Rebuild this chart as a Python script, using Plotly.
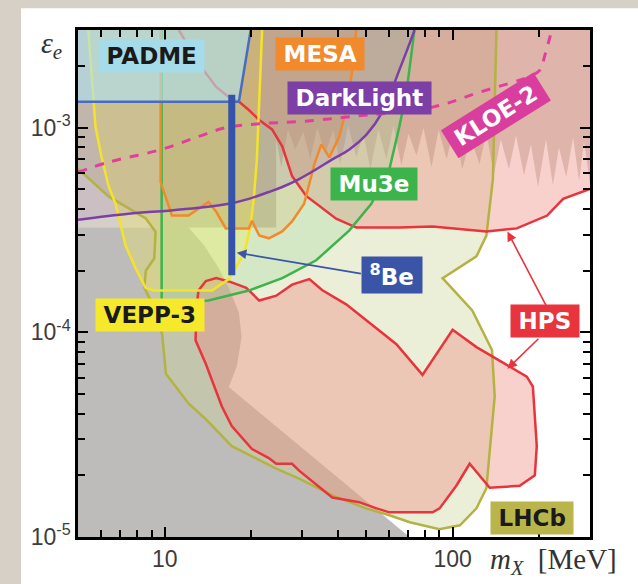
import numpy as np
import plotly.graph_objects as go

# masses m_X in MeV, couplings epsilon_e
beam_dump_m = [5, 12.1, 13.7, 15.4, 16.7, 18.1, 18.5, 17.8, 16.7, 70.8, 5]
beam_dump_eps = [3.25e-4, 3.25e-4, 2.66e-4, 2.06e-4, 1.65e-4, 1.25e-4, 9.5e-5, 6.8e-5, 5.4e-5, 1e-5, 1e-5]

lhcb_m = [5, 142, 140, 138, 131, 121, 92.3, 117, 137, 140, 137, 131, 121, 106, 90, 81, 71, 60, 50,
          38, 29.3, 24.4, 20.1, 17.1, 13.9, 12.1, 10.1, 9.8, 9.2, 8.5, 8.6, 9.2, 9.3, 8.6, 6.4, 5]
lhcb_eps = [3e-3, 3e-3, 1.37e-3, 5.6e-4, 2.97e-4, 2.35e-4, 1.84e-4, 1.28e-4, 8.2e-5, 4.86e-5, 3.48e-5,
            1.73e-5, 1.38e-5, 1.14e-5, 1.09e-5, 1.13e-5, 1.18e-5, 1.28e-5, 1.38e-5, 1.6e-5, 1.93e-5,
            2.16e-5, 2.49e-5, 2.78e-5, 3.76e-5, 4.49e-5, 6.27e-5, 9.8e-5, 1.32e-4, 1.65e-4, 2.0e-4,
            2.3e-4, 3.1e-4, 3.6e-4, 4.6e-4, 6.3e-4]

# existing upper bounds (jagged lower edge)
upper_m = [5, 300, 300, 286, 275, 262, 248, 234, 223, 211, 198, 187, 177, 166, 157, 147, 139, 131,
           124, 115.5, 108, 101.6, 95.3, 89.4, 84.5, 79.2, 74.9, 70.3, 66.4, 62.3, 58.9, 55.2, 51.8,
           49.0, 46.3, 43.4, 40.7, 38.5, 36.1, 33.9, 32.0, 30.3, 28.4, 26.8, 25.4, 24.4, 24.4, 5]
upper_eps = [3e-3, 3e-3, 5.3e-4, 8.56e-4, 5.48e-4, 8.95e-4, 5.73e-4, 8.01e-4, 5.25e-4, 8.75e-4,
             5.13e-4, 8.28e-4, 5.86e-4, 9.15e-4, 6.26e-4, 8.75e-4, 5.86e-4, 9.56e-4, 6.63e-4,
             8.95e-4, 6.26e-4, 1.02e-3, 7.0e-4, 9.78e-4, 6.41e-4, 1e-3, 7.32e-4, 9.35e-4, 6.55e-4,
             1.02e-3, 7.0e-4, 9.78e-4, 6.26e-4, 9.35e-4, 7.16e-4, 1.02e-3, 6.63e-4, 9.78e-4,
             7.41e-4, 1e-3, 7.0e-4, 9.56e-4, 7.83e-4, 9.78e-4, 6.41e-4, 8.75e-4, 3.25e-4, 3.25e-4]

hps1_m = [11.2, 13.1, 15.1, 16.7, 18.1, 19.6, 21.3, 23.6, 25.6, 27.7, 31.0, 34.4, 39.4, 46.3, 65.3,
          85.2, 131, 167, 213, 242, 300, 300]
hps1_eps = [3e-3, 2.06e-3, 1.58e-3, 1.41e-3, 1.34e-3, 1.22e-3, 1.09e-3, 9.8e-4, 8.1e-4, 5.8e-4,
            4.64e-4, 4.15e-4, 3.59e-4, 3.25e-4, 3.25e-4, 3.29e-4, 3.11e-4, 3.22e-4, 3.72e-4,
            4.49e-4, 5.02e-4, 3e-3]

hps2_m = [13.1, 13.9, 15.1, 17.0, 19.2, 21.3, 24.4, 27.7, 31.8, 35.2, 42.7, 50.2, 63.8, 78.6, 100,
          121, 158, 181, 190, 193, 196, 193, 171, 134.5, 114.6, 103, 90.1, 85.2, 60.3, 54.4, 47.4,
          38.2, 29.3, 27.7, 24.4, 23.0, 20.1, 17.1, 15.8, 13.9, 12.8, 12.9]
hps2_eps = [1.6e-4, 1.78e-4, 1.84e-4, 1.76e-4, 1.65e-4, 1.43e-4, 1.51e-4, 1.71e-4, 1.82e-4, 1.61e-4,
            1.37e-4, 1.14e-4, 8.75e-5, 6.2e-5, 1.03e-4, 8.47e-5, 6.78e-5, 6.07e-5, 5.43e-5, 4.02e-5,
            2.78e-5, 2.0e-5, 1.78e-5, 1.74e-5, 2.28e-5, 1.78e-5, 1.38e-5, 1.32e-5, 1.32e-5, 1.38e-5,
            1.48e-5, 1.56e-5, 2.11e-5, 2.28e-5, 2.28e-5, 2.43e-5, 2.69e-5, 3.48e-5, 4.34e-5, 7.0e-5,
            9.15e-5, 1.32e-4]

vepp3_m = [5.43, 5.75, 6.03, 6.38, 6.75, 7.31, 7.92, 8.59, 9.16, 14.6, 16.7, 18.9, 19.8, 20.4, 20.9,
           21.3, 21.8]
vepp3_eps = [3e-3, 1.01e-3, 7.24e-4, 5.19e-4, 4.25e-4, 2.66e-4, 2.06e-4, 1.65e-4, 1.6e-4, 1.6e-4,
             1.82e-4, 2.43e-4, 3.22e-4, 4.49e-4, 7.0e-4, 1.37e-3, 3e-3]

mu3e_m = [9.76, 9.76, 14.2, 19.6, 25.6, 33.6, 43.8, 52.2, 60.3, 65.3, 69.1, 73.7]
mu3e_eps = [3e-3, 1.40e-4, 1.43e-4, 1.6e-4, 1.84e-4, 2.25e-4, 3.15e-4, 4.25e-4, 6.26e-4, 1.01e-3,
            1.48e-3, 3e-3]

mesa_m = [9.68, 9.68, 10.6, 12.1, 14.2, 15.1, 16.3, 19.6, 20.1, 21.3, 23.0, 25.6, 27.7, 30.5, 33.1,
          35.0, 37.3, 40.4, 43.1, 44.8, 46.3]
mesa_eps = [3e-3, 5.42e-4, 3.72e-4, 3.72e-4, 4.34e-4, 3.88e-4, 3.22e-4, 3.22e-4, 3.51e-4, 2.97e-4,
            2.88e-4, 3.11e-4, 3.48e-4, 4.25e-4, 6.63e-4, 8.28e-4, 7.16e-4, 9.05e-4, 1.29e-3,
            1.91e-3, 3e-3]

darklight_m = [5, 7.5, 10.3, 13.1, 16.7, 19.6, 23.0, 25.6, 29.3, 33.6, 38.2, 43.8, 50.2, 57.0, 65.3,
               72.5, 73.7]
darklight_eps = [3.55e-4, 3.8e-4, 3.93e-4, 4.06e-4, 4.25e-4, 4.49e-4, 4.85e-4, 5.13e-4, 5.61e-4,
                 6.26e-4, 7.0e-4, 7.83e-4, 9.25e-4, 1.19e-3, 1.91e-3, 2.81e-3, 3e-3]

padme_m = [5, 18.1, 19.9]
padme_eps = [1.34e-3, 1.34e-3, 3e-3]

kloe_m = [5, 6.38, 9.76, 13.1, 16.3, 21.3, 29.3, 43.8, 85.2, 124, 185, 201, 209, 221]
kloe_eps = [6.06e-4, 6.78e-4, 7.83e-4, 9.05e-4, 1e-3, 1.045e-3, 1.07e-3, 1.13e-3, 1.26e-3, 1.49e-3,
            1.78e-3, 1.91e-3, 2.25e-3, 3e-3]

be8_m = [17.1, 17.1]
be8_eps = [1.9e-4, 1.45e-3]

# label text, mass, epsilon, box colour, text colour, angle
labels = [
    ("PADME", 9.0, 2.25e-3, "#a6dbe9", "#1a1a1a", 0),
    ("MESA", 34.7, 2.28e-3, "#f08a2c", "white", 0),
    ("DarkLight", 47.4, 1.40e-3, "#7b3fa6", "white", 0),
    ("KLOE-2", 142, 1.15e-3, "#d93d9d", "white", -32),
    ("Mu3e", 53.5, 5.3e-4, "#3db34c", "white", 0),
    ("<sup>8</sup>Be", 61.8, 1.91e-4, "#3a55a8", "white", 0),
    ("VEPP-3", 8.87, 1.22e-4, "#f6e82a", "#1a1a1a", 0),
    ("HPS", 209, 1.13e-4, "#e8343c", "white", 0),
    ("LHCb", 188.5, 1.24e-5, "#bab54a", "#1a1a1a", 0),
]

# arrows: (head m, head eps, tail m, tail eps, colour)
arrows = [
    (17.8, 2.45e-4, 48.6, 1.93e-4, "#3a55a8"),
    (155, 3.11e-4, 213, 1.32e-4, "#e8343c"),
    (155, 6.63e-5, 201, 9.46e-5, "#e8343c"),
]

fig = go.Figure()


def area(m, eps, color):
    fig.add_trace(go.Scatter(x=m, y=eps, mode="lines", fill="toself", fillcolor=color,
                             line=dict(width=0), hoverinfo="skip", showlegend=False))


def curve(m, eps, color, width=2.5, dash=None, shape="linear"):
    fig.add_trace(go.Scatter(x=m, y=eps, mode="lines", hoverinfo="skip", showlegend=False,
                             line=dict(color=color, width=width, dash=dash, shape=shape)))


# filled regions
area(beam_dump_m, beam_dump_eps, "#bebcbb")
area(lhcb_m, lhcb_eps, "rgba(205,212,150,0.38)")
area(upper_m, upper_eps, "rgba(130,108,85,0.33)")
area(hps1_m, hps1_eps, "rgba(238,140,130,0.4)")
area(hps2_m, hps2_eps, "rgba(238,140,130,0.4)")
area(mu3e_m, mu3e_eps, "rgba(150,215,150,0.28)")
area(vepp3_m, vepp3_eps, "rgba(245,235,80,0.3)")
area(mesa_m, mesa_eps, "rgba(230,150,40,0.14)")
area(darklight_m + [5], darklight_eps + [3e-3], "rgba(130,60,170,0.11)")

# outlines
curve(lhcb_m[1:], lhcb_eps[1:], "#b3b243")
curve(hps1_m[:-1], hps1_eps[:-1], "#e8343c")
curve(hps2_m + hps2_m[:1], hps2_eps + hps2_eps[:1], "#e8343c")
curve(mu3e_m, mu3e_eps, "#3db34c")
curve(vepp3_m, vepp3_eps, "#f3e42a")
curve(mesa_m, mesa_eps, "#f08a2c")
curve(darklight_m, darklight_eps, "#7b3fa6", shape="spline")
curve(kloe_m, kloe_eps, "#e0409a", width=3, dash="dash", shape="spline")

# PADME on top
area(padme_m + [5], padme_eps + [3e-3], "rgba(175,226,238,0.64)")
curve(padme_m, padme_eps, "#4a6cc0")

# 8Be band
curve(be8_m, be8_eps, "#3553aa", width=7)

annotations = []
for head_m, head_e, tail_m, tail_e, col in arrows:
    annotations.append(dict(x=np.log10(head_m), y=np.log10(head_e), xref="x", yref="y",
                            ax=np.log10(tail_m), ay=np.log10(tail_e), axref="x", ayref="y",
                            text="", showarrow=True, arrowhead=2, arrowsize=1.2,
                            arrowwidth=1.6, arrowcolor=col))

for text, m, e, bg, fc, ang in labels:
    annotations.append(dict(x=np.log10(m), y=np.log10(e), xref="x", yref="y",
                            text="<b>\u2009" + text + "\u2009</b>", showarrow=False, bgcolor=bg,
                            borderpad=3, textangle=ang,
                            font=dict(family="DejaVu Sans", size=23, color=fc)))

annotations.append(dict(x=-0.051, y=0.971, xref="paper", yref="paper", showarrow=False,
                        xanchor="center", yanchor="middle",
                        text="<i>ε</i><sub><i>e</i></sub>",
                        font=dict(family="Liberation Serif", size=30, color="#333")))
annotations.append(dict(x=0.80, y=-0.047, xref="paper", yref="paper", showarrow=False,
                        xanchor="left", yanchor="middle",
                        text="<i>m</i><sub><i>X</i></sub>  [MeV]",
                        font=dict(family="Liberation Serif", size=29, color="#333")))

axis_common = dict(type="log", showgrid=False, zeroline=False, showline=True, linecolor="black",
                   linewidth=2.5, mirror="ticks", ticks="inside", ticklen=10, tickwidth=2,
                   tickcolor="black",
                   tickfont=dict(family="Liberation Sans", size=23, color="#3c3c3c"))

fig.update_xaxes(range=[np.log10(5), np.log10(300)], tickvals=[10, 100], ticktext=["10", "100"],
                 minor=dict(ticks="inside", ticklen=7, tickwidth=1.6, tickcolor="black",
                            tickvals=[6, 7, 8, 9, 20, 30, 40, 50, 60, 70, 80, 90, 200]),
                 **axis_common)
fig.update_yaxes(range=[-5, np.log10(3e-3)], tickvals=[1e-5, 1e-4, 1e-3],
                 ticktext=["10<sup>-5</sup>", "10<sup>-4</sup>", "10<sup>-3</sup>"],
                 minor=dict(ticks="inside", ticklen=7, tickwidth=1.6, tickcolor="black",
                            tickvals=[k * d for d in (1e-5, 1e-4) for k in range(2, 10)] + [2e-3]),
                 **axis_common)

fig.update_layout(
    width=638, height=584,
    margin=dict(l=78, r=48, t=30, b=42),
    paper_bgcolor="#d6d0c6", plot_bgcolor="white",
    showlegend=False,
    annotations=annotations,
    shapes=[dict(type="rect", xref="paper", yref="paper", x0=-0.1113, x1=1.1, y0=-0.1, y1=1.043,
                 fillcolor="white", line=dict(width=0), layer="below")],
)

fig.write_html("out.html", config={"displayModeBar": False},
               post_script="document.body.style.margin='0';")
